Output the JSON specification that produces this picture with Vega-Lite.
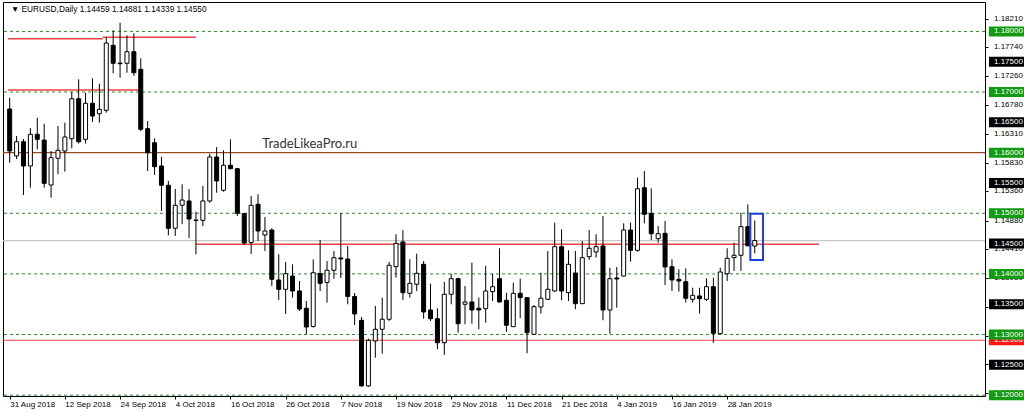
{
  "$schema": "https://vega.github.io/schema/vega-lite/v6.json",
  "padding": {"left": 1, "top": 1, "right": 0, "bottom": 0},
  "spacing": 0,
  "background": "white",
  "resolve": {"scale": {"color": "independent"}},
  "config": {"font": "Liberation Sans", "axis": {"grid": false}, "view": {"stroke": null}},
  "datasets": {
    "candles": [
      {"i":0,"o":1.16720,"h":1.16906,"l":1.15834,"c":1.16027},
      {"i":1,"o":1.15945,"h":1.16275,"l":1.15895,"c":1.16180},
      {"i":2,"o":1.16180,"h":1.16225,"l":1.15301,"c":1.15780},
      {"i":3,"o":1.15780,"h":1.16406,"l":1.15422,"c":1.16303},
      {"i":4,"o":1.16303,"h":1.16576,"l":1.16055,"c":1.16220},
      {"i":5,"o":1.16208,"h":1.16477,"l":1.15422,"c":1.15494},
      {"i":6,"o":1.15466,"h":1.16027,"l":1.15257,"c":1.15917},
      {"i":7,"o":1.15907,"h":1.16440,"l":1.15643,"c":1.16039},
      {"i":8,"o":1.16027,"h":1.16494,"l":1.15686,"c":1.16258},
      {"i":9,"o":1.16230,"h":1.17000,"l":1.16072,"c":1.16890},
      {"i":10,"o":1.16890,"h":1.17210,"l":1.16150,"c":1.16180},
      {"i":11,"o":1.16220,"h":1.16989,"l":1.16150,"c":1.16814},
      {"i":12,"o":1.16814,"h":1.17226,"l":1.16505,"c":1.16604},
      {"i":13,"o":1.16642,"h":1.17137,"l":1.16494,"c":1.16715},
      {"i":14,"o":1.16698,"h":1.17907,"l":1.16659,"c":1.17808},
      {"i":15,"o":1.17770,"h":1.18018,"l":1.17309,"c":1.17474},
      {"i":16,"o":1.17478,"h":1.18143,"l":1.17236,"c":1.17467},
      {"i":17,"o":1.17474,"h":1.17935,"l":1.17318,"c":1.17665},
      {"i":18,"o":1.17665,"h":1.17968,"l":1.17264,"c":1.17318},
      {"i":19,"o":1.17375,"h":1.17556,"l":1.16357,"c":1.16385},
      {"i":20,"o":1.16395,"h":1.16522,"l":1.15697,"c":1.15999},
      {"i":21,"o":1.16164,"h":1.16237,"l":1.15631,"c":1.15768},
      {"i":22,"o":1.15780,"h":1.15933,"l":1.15038,"c":1.15462},
      {"i":23,"o":1.15462,"h":1.15533,"l":1.14637,"c":1.14752},
      {"i":24,"o":1.14752,"h":1.15401,"l":1.14626,"c":1.15132},
      {"i":25,"o":1.15132,"h":1.15478,"l":1.14824,"c":1.15219},
      {"i":26,"o":1.15203,"h":1.15401,"l":1.14593,"c":1.14906},
      {"i":27,"o":1.14889,"h":1.15026,"l":1.14324,"c":1.14881},
      {"i":28,"o":1.14884,"h":1.15450,"l":1.14790,"c":1.15203},
      {"i":29,"o":1.15203,"h":1.15983,"l":1.15174,"c":1.15928},
      {"i":30,"o":1.15928,"h":1.16093,"l":1.15339,"c":1.15533},
      {"i":31,"o":1.15379,"h":1.16039,"l":1.15356,"c":1.15792},
      {"i":32,"o":1.15792,"h":1.16220,"l":1.15725,"c":1.15735},
      {"i":33,"o":1.15735,"h":1.15747,"l":1.14955,"c":1.14999},
      {"i":34,"o":1.14995,"h":1.15005,"l":1.14477,"c":1.14510},
      {"i":35,"o":1.14518,"h":1.15285,"l":1.14329,"c":1.15132},
      {"i":36,"o":1.15148,"h":1.15313,"l":1.14543,"c":1.14708},
      {"i":37,"o":1.14642,"h":1.14939,"l":1.14378,"c":1.14708},
      {"i":38,"o":1.14724,"h":1.14752,"l":1.13801,"c":1.13911},
      {"i":39,"o":1.13900,"h":1.14324,"l":1.13570,"c":1.13746},
      {"i":40,"o":1.13746,"h":1.14197,"l":1.13339,"c":1.14003},
      {"i":41,"o":1.13965,"h":1.14158,"l":1.13608,"c":1.13718},
      {"i":42,"o":1.13718,"h":1.13883,"l":1.13388,"c":1.13421},
      {"i":43,"o":1.13433,"h":1.13553,"l":1.13004,"c":1.13124},
      {"i":44,"o":1.13133,"h":1.14241,"l":1.13113,"c":1.14020},
      {"i":45,"o":1.14007,"h":1.14559,"l":1.13718,"c":1.13845},
      {"i":46,"o":1.13859,"h":1.14213,"l":1.13526,"c":1.14060},
      {"i":47,"o":1.14060,"h":1.14378,"l":1.13916,"c":1.14268},
      {"i":48,"o":1.14263,"h":1.15005,"l":1.13933,"c":1.14246},
      {"i":49,"o":1.14246,"h":1.14461,"l":1.13499,"c":1.13628},
      {"i":50,"o":1.13628,"h":1.13685,"l":1.13158,"c":1.13339},
      {"i":51,"o":1.13235,"h":1.13290,"l":1.12143,"c":1.12152},
      {"i":52,"o":1.12152,"h":1.12932,"l":1.12140,"c":1.12905},
      {"i":53,"o":1.12894,"h":1.13471,"l":1.12618,"c":1.13087},
      {"i":54,"o":1.13087,"h":1.13608,"l":1.12684,"c":1.13252},
      {"i":55,"o":1.13252,"h":1.14197,"l":1.13223,"c":1.14142},
      {"i":56,"o":1.14119,"h":1.14654,"l":1.13938,"c":1.14505},
      {"i":57,"o":1.14527,"h":1.14720,"l":1.13570,"c":1.13690},
      {"i":58,"o":1.13680,"h":1.14241,"l":1.13608,"c":1.13845},
      {"i":59,"o":1.13829,"h":1.14334,"l":1.13718,"c":1.14010},
      {"i":60,"o":1.14158,"h":1.14213,"l":1.13261,"c":1.13372},
      {"i":61,"o":1.13405,"h":1.13839,"l":1.13223,"c":1.13261},
      {"i":62,"o":1.13261,"h":1.13433,"l":1.12757,"c":1.12865},
      {"i":63,"o":1.12865,"h":1.13867,"l":1.12663,"c":1.13664},
      {"i":64,"o":1.13664,"h":1.14003,"l":1.13499,"c":1.13921},
      {"i":65,"o":1.13921,"h":1.13938,"l":1.13030,"c":1.13179},
      {"i":66,"o":1.13499,"h":1.13801,"l":1.13169,"c":1.13537},
      {"i":67,"o":1.13537,"h":1.14185,"l":1.13179,"c":1.13405},
      {"i":68,"o":1.13433,"h":1.13608,"l":1.13087,"c":1.13405},
      {"i":69,"o":1.13426,"h":1.14131,"l":1.13195,"c":1.13718},
      {"i":70,"o":1.13707,"h":1.14003,"l":1.13553,"c":1.13789},
      {"i":71,"o":1.13921,"h":1.14423,"l":1.13526,"c":1.13537},
      {"i":72,"o":1.13565,"h":1.13690,"l":1.13042,"c":1.13153},
      {"i":73,"o":1.13129,"h":1.13855,"l":1.13124,"c":1.13680},
      {"i":74,"o":1.13680,"h":1.13921,"l":1.13268,"c":1.13608},
      {"i":75,"o":1.13608,"h":1.13611,"l":1.12691,"c":1.13030},
      {"i":76,"o":1.13004,"h":1.13487,"l":1.12992,"c":1.13459},
      {"i":77,"o":1.13454,"h":1.14020,"l":1.13344,"c":1.13598},
      {"i":78,"o":1.13581,"h":1.14378,"l":1.13570,"c":1.13746},
      {"i":79,"o":1.13718,"h":1.14845,"l":1.13707,"c":1.14449},
      {"i":80,"o":1.14449,"h":1.14736,"l":1.13565,"c":1.13718},
      {"i":81,"o":1.13690,"h":1.14389,"l":1.13553,"c":1.14158},
      {"i":82,"o":1.14015,"h":1.14378,"l":1.13416,"c":1.13509},
      {"i":83,"o":1.13509,"h":1.14543,"l":1.13504,"c":1.14268},
      {"i":84,"o":1.14284,"h":1.14724,"l":1.14229,"c":1.14423},
      {"i":85,"o":1.14362,"h":1.14654,"l":1.14268,"c":1.14449},
      {"i":86,"o":1.14461,"h":1.14955,"l":1.13235,"c":1.13405},
      {"i":87,"o":1.13405,"h":1.14102,"l":1.13014,"c":1.13921},
      {"i":88,"o":1.13933,"h":1.14114,"l":1.13443,"c":1.13916},
      {"i":89,"o":1.13965,"h":1.14835,"l":1.13957,"c":1.14724},
      {"i":90,"o":1.14724,"h":1.14845,"l":1.14202,"c":1.14389},
      {"i":91,"o":1.14389,"h":1.15587,"l":1.14366,"c":1.15405},
      {"i":92,"o":1.15422,"h":1.15697,"l":1.14835,"c":1.14983},
      {"i":93,"o":1.14999,"h":1.15412,"l":1.14559,"c":1.14663},
      {"i":94,"o":1.14581,"h":1.14790,"l":1.14515,"c":1.14663},
      {"i":95,"o":1.14670,"h":1.14873,"l":1.13817,"c":1.14114},
      {"i":96,"o":1.14119,"h":1.14241,"l":1.13718,"c":1.13900},
      {"i":97,"o":1.13911,"h":1.14076,"l":1.13707,"c":1.13883},
      {"i":98,"o":1.13871,"h":1.14092,"l":1.13526,"c":1.13598},
      {"i":99,"o":1.13581,"h":1.13772,"l":1.13526,"c":1.13647},
      {"i":100,"o":1.13636,"h":1.13772,"l":1.13344,"c":1.13591},
      {"i":101,"o":1.13581,"h":1.13928,"l":1.13553,"c":1.13789},
      {"i":102,"o":1.13789,"h":1.13938,"l":1.12865,"c":1.13021},
      {"i":103,"o":1.13014,"h":1.14102,"l":1.13004,"c":1.14032},
      {"i":104,"o":1.14003,"h":1.14423,"l":1.13883,"c":1.14258},
      {"i":105,"o":1.14268,"h":1.14515,"l":1.14048,"c":1.14307},
      {"i":106,"o":1.14307,"h":1.15010,"l":1.14048,"c":1.14779},
      {"i":107,"o":1.14779,"h":1.15148,"l":1.14461,"c":1.14462},
      {"i":108,"o":1.14459,"h":1.14881,"l":1.14339,"c":1.14550}
    ],
    "levels": [{"p":1.18},{"p":1.17},{"p":1.15},{"p":1.14},{"p":1.13},{"p":1.12}],
    "fullLines": [{"p":1.16,"k":"brown"},{"p":1.1455,"k":"bid"},{"p":1.12906,"k":"red"}],
    "segments": [
      {"a":-0.244,"b":13.5,"p":1.17879},
      {"a":13.5,"b":27.0,"p":1.17905},
      {"a":-0.244,"b":19.0,"p":1.17033},
      {"a":27.0,"b":117.3,"p":1.14488}
    ],
    "box": [{"a":107.36,"b":109.2,"p0":1.14229,"p1":1.14993}],
    "plainLabels": [
      {"p":1.1821,"t":"1.18210"},{"p":1.1774,"t":"1.17740"},{"p":1.1726,"t":"1.17260"},
      {"p":1.1678,"t":"1.16780"},{"p":1.1631,"t":"1.16310"},{"p":1.1583,"t":"1.15830"},
      {"p":1.1536,"t":"1.15360"},{"p":1.1488,"t":"1.14880"},{"p":1.1441,"t":"1.14410"},
      {"p":1.1393,"t":"1.13930"},{"p":1.1346,"t":"1.13460"},{"p":1.1298,"t":"1.12980"},
      {"p":1.1251,"t":"1.12510"},{"p":1.1203,"t":"1.12030"}
    ],
    "boxLabels": [
      {"p":1.12906,"t":"1.12906","k":"line"},
      {"p":1.18,"t":"1.18000","k":"level"},{"p":1.175,"t":"1.17500","k":"round"},
      {"p":1.17,"t":"1.17000","k":"level"},{"p":1.165,"t":"1.16500","k":"round"},
      {"p":1.16,"t":"1.16000","k":"level"},{"p":1.155,"t":"1.15500","k":"round"},
      {"p":1.15,"t":"1.15000","k":"level"},{"p":1.145,"t":"1.14500","k":"round"},
      {"p":1.14,"t":"1.14000","k":"level"},{"p":1.135,"t":"1.13500","k":"round"},
      {"p":1.13,"t":"1.13000","k":"level"},{"p":1.125,"t":"1.12500","k":"round"},
      {"p":1.12,"t":"1.12000","k":"level"}
    ]
  },
  "hconcat": [
    {
      "width": 982,
      "height": 394,
      "view": {"stroke": "#000000", "strokeWidth": 1},
      "layer": [
        {
          "data": {"name": "levels"},
          "mark": {"type": "rule", "color": "#259025", "strokeDash": [3, 3], "strokeWidth": 1},
          "encoding": {
            "y": {"field": "p", "type": "quantitative", "title": null,
                  "scale": {"domain": [1.11986, 1.18485], "nice": false, "zero": false},
                  "axis": {"orient": "right", "values": [1.1821,1.1774,1.1726,1.1678,1.1631,1.1583,1.1536,1.1488,1.1441,1.1393,1.1346,1.1298,1.1251,1.1203],
                           "labels": false, "tickSize": 3, "tickColor": "#000000", "domain": false, "grid": false, "title": null}}
          }
        },
        {
          "data": {"name": "fullLines"},
          "mark": {"type": "rule", "strokeWidth": 1.2},
          "encoding": {
            "y": {"field": "p", "type": "quantitative", "title": null,
                  "scale": {"domain": [1.11986, 1.18485], "nice": false, "zero": false},
                  "axis": {"orient": "right", "values": [1.1821,1.1774,1.1726,1.1678,1.1631,1.1583,1.1536,1.1488,1.1441,1.1393,1.1346,1.1298,1.1251,1.1203],
                           "labels": false, "tickSize": 3, "tickColor": "#000000", "domain": false, "grid": false, "title": null}},
            "color": {"field": "k", "type": "nominal", "legend": null,
                      "scale": {"domain": ["brown", "bid", "red"], "range": ["#9A4A20", "#C8C8C8", "#F04040"]}}
          }
        },
        {
          "data": {"name": "segments"},
          "mark": {"type": "rule", "color": "#F04040", "strokeWidth": 1.5},
          "encoding": {
            "x": {"field": "a", "type": "quantitative", "title": null,
                  "scale": {"domain": [-0.244, 140.65], "nice": false, "zero": false},
                  "axis": {"values": [0,8,16,24,32,40,48,56,64,72,80,88,96,104],
                           "labelExpr": "['31 Aug 2018','12 Sep 2018','24 Sep 2018','4 Oct 2018','16 Oct 2018','26 Oct 2018','7 Nov 2018','19 Nov 2018','29 Nov 2018','11 Dec 2018','21 Dec 2018','4 Jan 2019','16 Jan 2019','28 Jan 2019'][round(datum.value/8)]",
                           "labelAlign": "left", "labelFlush": false, "labelOverlap": false, "tickSize": 3, "tickColor": "#000000",
                           "labelPadding": 1, "labelFontSize": 8, "labelColor": "#000000", "domain": false, "grid": false, "title": null}},
            "x2": {"field": "b"},
            "y": {"field": "p", "type": "quantitative", "title": null,
                  "scale": {"domain": [1.11986, 1.18485], "nice": false, "zero": false},
                  "axis": {"orient": "right", "values": [1.1821,1.1774,1.1726,1.1678,1.1631,1.1583,1.1536,1.1488,1.1441,1.1393,1.1346,1.1298,1.1251,1.1203],
                           "labels": false, "tickSize": 3, "tickColor": "#000000", "domain": false, "grid": false, "title": null}}
          }
        },
        {
          "data": {"name": "candles"},
          "mark": {"type": "rule", "color": "#000000", "strokeWidth": 1},
          "encoding": {
            "x": {"field": "i", "type": "quantitative", "title": null,
                  "scale": {"domain": [-0.244, 140.65], "nice": false, "zero": false},
                  "axis": {"values": [0,8,16,24,32,40,48,56,64,72,80,88,96,104],
                           "labelExpr": "['31 Aug 2018','12 Sep 2018','24 Sep 2018','4 Oct 2018','16 Oct 2018','26 Oct 2018','7 Nov 2018','19 Nov 2018','29 Nov 2018','11 Dec 2018','21 Dec 2018','4 Jan 2019','16 Jan 2019','28 Jan 2019'][round(datum.value/8)]",
                           "labelAlign": "left", "labelFlush": false, "labelOverlap": false, "tickSize": 3, "tickColor": "#000000",
                           "labelPadding": 1, "labelFontSize": 8, "labelColor": "#000000", "domain": false, "grid": false, "title": null}},
            "y": {"field": "l", "type": "quantitative", "title": null,
                  "scale": {"domain": [1.11986, 1.18485], "nice": false, "zero": false},
                  "axis": {"orient": "right", "values": [1.1821,1.1774,1.1726,1.1678,1.1631,1.1583,1.1536,1.1488,1.1441,1.1393,1.1346,1.1298,1.1251,1.1203],
                           "labels": false, "tickSize": 3, "tickColor": "#000000", "domain": false, "grid": false, "title": null}},
            "y2": {"field": "h"}
          }
        },
        {
          "data": {"name": "candles"},
          "mark": {"type": "bar", "width": 4, "stroke": "#000000", "strokeWidth": 1},
          "encoding": {
            "x": {"field": "i", "type": "quantitative", "title": null,
                  "scale": {"domain": [-0.244, 140.65], "nice": false, "zero": false},
                  "axis": {"values": [0,8,16,24,32,40,48,56,64,72,80,88,96,104],
                           "labelExpr": "['31 Aug 2018','12 Sep 2018','24 Sep 2018','4 Oct 2018','16 Oct 2018','26 Oct 2018','7 Nov 2018','19 Nov 2018','29 Nov 2018','11 Dec 2018','21 Dec 2018','4 Jan 2019','16 Jan 2019','28 Jan 2019'][round(datum.value/8)]",
                           "labelAlign": "left", "labelFlush": false, "labelOverlap": false, "tickSize": 3, "tickColor": "#000000",
                           "labelPadding": 1, "labelFontSize": 8, "labelColor": "#000000", "domain": false, "grid": false, "title": null}},
            "y": {"field": "o", "type": "quantitative", "title": null,
                  "scale": {"domain": [1.11986, 1.18485], "nice": false, "zero": false},
                  "axis": {"orient": "right", "values": [1.1821,1.1774,1.1726,1.1678,1.1631,1.1583,1.1536,1.1488,1.1441,1.1393,1.1346,1.1298,1.1251,1.1203],
                           "labels": false, "tickSize": 3, "tickColor": "#000000", "domain": false, "grid": false, "title": null}},
            "y2": {"field": "c"},
            "fill": {"condition": {"test": "datum.c > datum.o", "value": "#ffffff"}, "value": "#000000"}
          }
        },
        {
          "data": {"name": "box"},
          "mark": {"type": "rect", "fillOpacity": 0, "stroke": "#1A3FD8", "strokeWidth": 2},
          "encoding": {
            "x": {"field": "a", "type": "quantitative", "title": null,
                  "scale": {"domain": [-0.244, 140.65], "nice": false, "zero": false},
                  "axis": {"values": [0,8,16,24,32,40,48,56,64,72,80,88,96,104],
                           "labelExpr": "['31 Aug 2018','12 Sep 2018','24 Sep 2018','4 Oct 2018','16 Oct 2018','26 Oct 2018','7 Nov 2018','19 Nov 2018','29 Nov 2018','11 Dec 2018','21 Dec 2018','4 Jan 2019','16 Jan 2019','28 Jan 2019'][round(datum.value/8)]",
                           "labelAlign": "left", "labelFlush": false, "labelOverlap": false, "tickSize": 3, "tickColor": "#000000",
                           "labelPadding": 1, "labelFontSize": 8, "labelColor": "#000000", "domain": false, "grid": false, "title": null}},
            "x2": {"field": "b"},
            "y": {"field": "p0", "type": "quantitative", "title": null,
                  "scale": {"domain": [1.11986, 1.18485], "nice": false, "zero": false},
                  "axis": {"orient": "right", "values": [1.1821,1.1774,1.1726,1.1678,1.1631,1.1583,1.1536,1.1488,1.1441,1.1393,1.1346,1.1298,1.1251,1.1203],
                           "labels": false, "tickSize": 3, "tickColor": "#000000", "domain": false, "grid": false, "title": null}},
            "y2": {"field": "p1"}
          }
        },
        {
          "data": {"values": [{"t": "TradeLikeaPro.ru", "x": 36.6, "p": 1.16143}]},
          "mark": {"type": "text", "align": "left", "baseline": "middle", "fontSize": 13, "font": "Lato", "color": "#333333"},
          "encoding": {
            "x": {"field": "x", "type": "quantitative", "title": null,
                  "scale": {"domain": [-0.244, 140.65], "nice": false, "zero": false},
                  "axis": {"values": [0,8,16,24,32,40,48,56,64,72,80,88,96,104],
                           "labelExpr": "['31 Aug 2018','12 Sep 2018','24 Sep 2018','4 Oct 2018','16 Oct 2018','26 Oct 2018','7 Nov 2018','19 Nov 2018','29 Nov 2018','11 Dec 2018','21 Dec 2018','4 Jan 2019','16 Jan 2019','28 Jan 2019'][round(datum.value/8)]",
                           "labelAlign": "left", "labelFlush": false, "labelOverlap": false, "tickSize": 3, "tickColor": "#000000",
                           "labelPadding": 1, "labelFontSize": 8, "labelColor": "#000000", "domain": false, "grid": false, "title": null}},
            "y": {"field": "p", "type": "quantitative", "title": null,
                  "scale": {"domain": [1.11986, 1.18485], "nice": false, "zero": false},
                  "axis": {"orient": "right", "values": [1.1821,1.1774,1.1726,1.1678,1.1631,1.1583,1.1536,1.1488,1.1441,1.1393,1.1346,1.1298,1.1251,1.1203],
                           "labels": false, "tickSize": 3, "tickColor": "#000000", "domain": false, "grid": false, "title": null}},
            "text": {"field": "t"}
          }
        },
        {
          "data": {"values": [{"t": "▼ EURUSD,Daily  1.14459 1.14881 1.14339 1.14550", "x": 0.2, "p": 1.18353}]},
          "mark": {"type": "text", "align": "left", "baseline": "middle", "fontSize": 8.3, "color": "#000000"},
          "encoding": {
            "x": {"field": "x", "type": "quantitative", "title": null,
                  "scale": {"domain": [-0.244, 140.65], "nice": false, "zero": false},
                  "axis": {"values": [0,8,16,24,32,40,48,56,64,72,80,88,96,104],
                           "labelExpr": "['31 Aug 2018','12 Sep 2018','24 Sep 2018','4 Oct 2018','16 Oct 2018','26 Oct 2018','7 Nov 2018','19 Nov 2018','29 Nov 2018','11 Dec 2018','21 Dec 2018','4 Jan 2019','16 Jan 2019','28 Jan 2019'][round(datum.value/8)]",
                           "labelAlign": "left", "labelFlush": false, "labelOverlap": false, "tickSize": 3, "tickColor": "#000000",
                           "labelPadding": 1, "labelFontSize": 8, "labelColor": "#000000", "domain": false, "grid": false, "title": null}},
            "y": {"field": "p", "type": "quantitative", "title": null,
                  "scale": {"domain": [1.11986, 1.18485], "nice": false, "zero": false},
                  "axis": {"orient": "right", "values": [1.1821,1.1774,1.1726,1.1678,1.1631,1.1583,1.1536,1.1488,1.1441,1.1393,1.1346,1.1298,1.1251,1.1203],
                           "labels": false, "tickSize": 3, "tickColor": "#000000", "domain": false, "grid": false, "title": null}},
            "text": {"field": "t"}
          }
        }
      ]
    },
    {
      "width": 38,
      "height": 394,
      "view": {"stroke": null},
      "layer": [
        {
          "data": {"name": "plainLabels"},
          "mark": {"type": "text", "align": "left", "baseline": "middle", "fontSize": 8, "color": "#000000"},
          "encoding": {
            "x": {"datum": 4, "type": "quantitative", "axis": null, "scale": {"domain": [0, 38], "nice": false, "zero": false}},
            "y": {"field": "p", "type": "quantitative", "axis": null,
                  "scale": {"domain": [1.11986, 1.18485], "nice": false, "zero": false}},
            "text": {"field": "t"}
          }
        },
        {
          "data": {"name": "boxLabels"},
          "transform": [{"filter": "datum.k == 'line'"}],
          "mark": {"type": "tick", "orient": "horizontal", "thickness": 10, "size": 35, "opacity": 1, "color": "#FF1A1A"},
          "encoding": {
            "x": {"datum": 16.5, "type": "quantitative", "axis": null, "scale": {"domain": [0, 38], "nice": false, "zero": false}},
            "y": {"field": "p", "type": "quantitative", "axis": null,
                  "scale": {"domain": [1.11986, 1.18485], "nice": false, "zero": false}}
          }
        },
        {
          "data": {"name": "boxLabels"},
          "transform": [{"filter": "datum.k == 'line'"}],
          "mark": {"type": "text", "align": "left", "baseline": "middle", "fontSize": 8, "color": "#ffffff"},
          "encoding": {
            "x": {"datum": 4, "type": "quantitative", "axis": null, "scale": {"domain": [0, 38], "nice": false, "zero": false}},
            "y": {"field": "p", "type": "quantitative", "axis": null,
                  "scale": {"domain": [1.11986, 1.18485], "nice": false, "zero": false}},
            "text": {"field": "t"}
          }
        },
        {
          "data": {"name": "boxLabels"},
          "transform": [{"filter": "datum.k != 'line'"}],
          "mark": {"type": "tick", "orient": "horizontal", "thickness": 10, "size": 35, "opacity": 1},
          "encoding": {
            "x": {"datum": 16.5, "type": "quantitative", "axis": null, "scale": {"domain": [0, 38], "nice": false, "zero": false}},
            "y": {"field": "p", "type": "quantitative", "axis": null,
                  "scale": {"domain": [1.11986, 1.18485], "nice": false, "zero": false}},
            "color": {"field": "k", "type": "nominal", "legend": null,
                      "scale": {"domain": ["level", "round"], "range": ["#139A13", "#000000"]}}
          }
        },
        {
          "data": {"name": "boxLabels"},
          "transform": [{"filter": "datum.k != 'line'"}],
          "mark": {"type": "text", "align": "left", "baseline": "middle", "fontSize": 8, "color": "#ffffff"},
          "encoding": {
            "x": {"datum": 4, "type": "quantitative", "axis": null, "scale": {"domain": [0, 38], "nice": false, "zero": false}},
            "y": {"field": "p", "type": "quantitative", "axis": null,
                  "scale": {"domain": [1.11986, 1.18485], "nice": false, "zero": false}},
            "text": {"field": "t"}
          }
        }
      ]
    }
  ]
}
